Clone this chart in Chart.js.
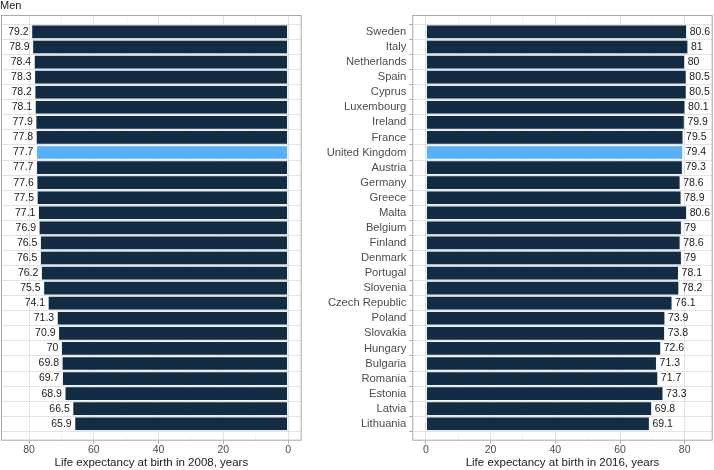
<!DOCTYPE html>
<html>
<head>
<meta charset="utf-8">
<script src="https://cdn.jsdelivr.net/npm/chart.js@4.4.0/dist/chart.umd.min.js"></script>
<style>
  html, body { margin: 0; padding: 0; background: #fff; }
  #wrap { position: relative; width: 714px; height: 470px; overflow: hidden; }
  #left { position: absolute; left: 0; top: 0; }
  #right { position: absolute; left: 310px; top: 0; }
  #men { position: absolute; left: 0; top: -1px; font: 11px 'Liberation Sans', Arial, sans-serif; color: #1a1a1a; }
</style>
</head>
<body>
<div id="wrap">
  <canvas id="left" width="310" height="470"></canvas>
  <canvas id="right" width="404" height="470"></canvas>
  <div id="men">Men</div>
</div>
<script>
const countries = ['Sweden','Italy','Netherlands','Spain','Cyprus','Luxembourg','Ireland','France',
  'United Kingdom','Austria','Germany','Greece','Malta','Belgium','Finland','Denmark','Portugal',
  'Slovenia','Czech Republic','Poland','Slovakia','Hungary','Bulgaria','Romania','Estonia','Latvia','Lithuania'];
const le2008 = [79.2, 78.9, 78.4, 78.3, 78.2, 78.1, 77.9, 77.8, 77.7, 77.7, 77.6, 77.5, 77.1, 76.9,
  76.5, 76.5, 76.2, 75.5, 74.1, 71.3, 70.9, 70, 69.8, 69.7, 68.9, 66.5, 65.9];
const le2016 = [80.6, 81, 80, 80.5, 80.5, 80.1, 79.9, 79.5, 79.4, 79.3, 78.6, 78.9, 80.6, 79,
  78.6, 79, 78.1, 78.2, 76.1, 73.9, 73.8, 72.6, 71.3, 71.7, 73.3, 69.8, 69.1];
const highlight = 'United Kingdom';
const xTicks = [0, 10, 20, 30, 40, 50, 60, 70, 80];

Chart.defaults.font.family = "'Liberation Sans', Arial, sans-serif";
Chart.defaults.color = '#4d4d4d';

const BORDER = '#a9a9a9';
const GRID = '#e3e3e3';
const GRID_MINOR = '#efefef';

const panelPlugin = {
  id: 'panel',
  afterDatasetsDraw(chart, args, opts) {
    const { ctx, chartArea: a } = chart;
    const meta = chart.getDatasetMeta(0);
    const vals = chart.data.datasets[0].data;
    ctx.save();
    ctx.font = "10.5px 'Liberation Sans', Arial, sans-serif";
    ctx.fillStyle = '#1a1a1a';
    ctx.textBaseline = 'middle';
    meta.data.forEach((bar, i) => {
      const v = vals[i].x;
      const px = chart.scales.x.getPixelForValue(v);
      if (opts.side === 'left') {
        ctx.textAlign = 'right';
        ctx.fillText(String(v), px - 3, bar.y);
      } else {
        ctx.textAlign = 'left';
        ctx.fillText(String(v), px + 3, bar.y);
      }
    });
    ctx.strokeStyle = BORDER;
    ctx.lineWidth = 1;
    ctx.strokeRect(a.left + 0.5, a.top + 0.5, a.width - 1, a.height - 1);
    ctx.restore();
  }
};

function makePanel(canvasId, values, side, title) {
  const ctx = document.getElementById(canvasId).getContext('2d');
  const left = side === 'left';
  return new Chart(ctx, {
    type: 'bar',
    data: {
      datasets: [{
        data: values.map((v, i) => ({ x: v, y: i })),
        backgroundColor: countries.map(c => c === highlight ? '#56B1F7' : '#132B43'),
        borderColor: 'rgba(210,220,230,0.9)',
        borderWidth: 0.6,
        borderSkipped: false,
        barPercentage: 0.92,
        categoryPercentage: 1
      }]
    },
    options: {
      indexAxis: 'y',
      responsive: false,
      animation: false,
      layout: { padding: left ? { left: 1, right: 8.3, top: 15, bottom: 0 } : { left: 0, right: 1.3, top: 15, bottom: 0 } },
      plugins: { legend: { display: false }, tooltip: { enabled: false }, panel: { side } },
      scales: {
        x: {
          type: 'linear',
          min: -4.2, max: 88.65,
          reverse: left,
          afterBuildTicks: s => { s.ticks = xTicks.map(v => ({ value: v })); },
          afterFit: s => { s.height = 29.3; },
          border: { display: false },
          grid: {
            color: c => c.tick && c.tick.value % 20 === 0 ? GRID : GRID_MINOR,
            lineWidth: c => c.tick && c.tick.value % 20 === 0 ? 1 : 0.7,
            tickColor: c => c.tick && c.tick.value % 20 === 0 ? BORDER : 'rgba(0,0,0,0)',
            tickLength: 3
          },
          ticks: {
            padding: 0,
            font: { size: 10.5 },
            color: '#4d4d4d',
            callback: v => v % 20 === 0 ? String(v) : ''
          },
          title: {
            display: true,
            text: title,
            color: '#1a1a1a',
            font: { size: 11.5 },
            padding: { top: 0, bottom: 0 }
          }
        },
        y: {
          type: 'linear',
          min: -0.6, max: countries.length - 0.4,
          reverse: true,
          afterBuildTicks: s => { s.ticks = countries.map((c, i) => ({ value: i })); },
          afterFit: s => { s.width = left ? 0 : 102.3; },
          border: { display: false },
          grid: {
            color: GRID,
            lineWidth: 1,
            drawTicks: !left,
            tickColor: BORDER,
            tickLength: 3
          },
          ticks: {
            display: !left,
            autoSkip: false,
            padding: 3,
            font: { size: 11.2 },
            color: '#4d4d4d',
            callback: v => countries[v]
          }
        }
      }
    },
    plugins: [panelPlugin]
  });
}

makePanel('left', le2008, 'left', 'Life expectancy at birth in 2008, years');
makePanel('right', le2016, 'right', 'Life expectancy at birth in 2016, years');
</script>
</body>
</html>
